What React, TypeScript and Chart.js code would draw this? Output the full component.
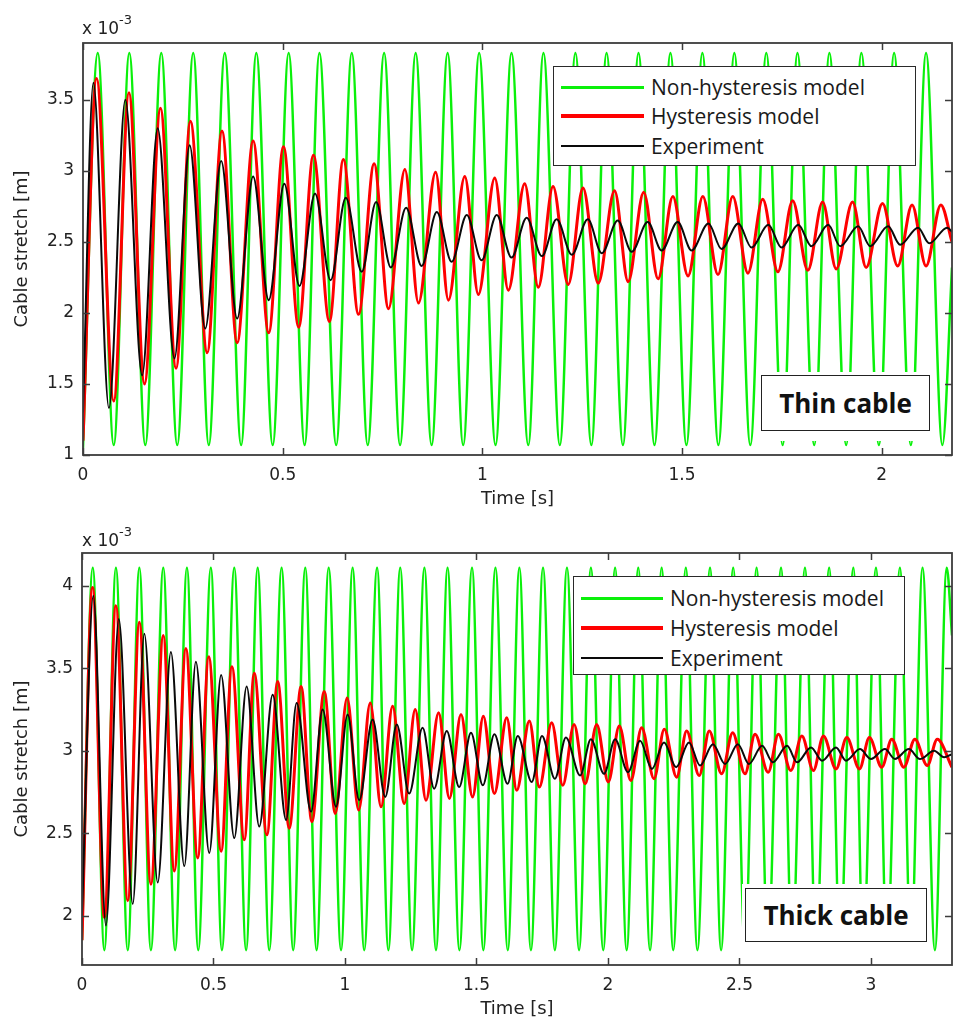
import React, { useEffect, useRef } from 'react';
import { Chart, registerables } from 'chart.js';

Chart.register(...registerables);

// ---------------- Thin cable (top panel) ----------------
const thinTimeTicks = [0, 0.5, 1, 1.5, 2];
const thinStretchTicks = [1, 1.5, 2, 2.5, 3, 3.5];

const thinGreenT = [0, 0.037, 0.077, 0.116, 0.156, 0.196, 0.236, 0.276, 0.315, 0.355, 0.396, 0.434, 0.475, 0.515, 0.555, 0.592, 0.634, 0.673, 0.713, 0.754, 0.794, 0.833, 0.873, 0.913, 0.952, 0.992, 1.033, 1.073, 1.115, 1.153, 1.194, 1.233, 1.273, 1.311, 1.352, 1.391, 1.431, 1.471, 1.511, 1.551, 1.591, 1.631, 1.671, 1.711, 1.752, 1.789, 1.831, 1.869, 1.911, 1.949, 1.993, 2.031, 2.073, 2.111, 2.152, 2.176];
const thinGreenV = [1.05, 3.83, 1.07, 3.83, 1.07, 3.83, 1.07, 3.83, 1.07, 3.83, 1.07, 3.83, 1.07, 3.83, 1.07, 3.83, 1.07, 3.83, 1.07, 3.83, 1.07, 3.83, 1.07, 3.83, 1.07, 3.83, 1.07, 3.83, 1.07, 3.83, 1.07, 3.83, 1.07, 3.83, 1.07, 3.83, 1.07, 3.83, 1.07, 3.83, 1.07, 3.83, 1.07, 3.83, 1.07, 3.83, 1.07, 3.83, 1.07, 3.83, 1.07, 3.83, 1.07, 3.83, 1.07, 2.32];

const thinRedT = [0, 0.034, 0.077, 0.115, 0.154, 0.194, 0.233, 0.269, 0.311, 0.348, 0.386, 0.426, 0.465, 0.502, 0.540, 0.577, 0.617, 0.652, 0.690, 0.729, 0.765, 0.806, 0.840, 0.883, 0.915, 0.956, 0.990, 1.031, 1.065, 1.106, 1.140, 1.177, 1.215, 1.252, 1.290, 1.331, 1.365, 1.404, 1.440, 1.477, 1.515, 1.552, 1.590, 1.627, 1.665, 1.702, 1.740, 1.777, 1.815, 1.852, 1.886, 1.927, 1.961, 2.002, 2.040, 2.076, 2.111, 2.148, 2.176];
const thinRedV = [1.10, 3.65, 1.38, 3.55, 1.50, 3.44, 1.61, 3.35, 1.72, 3.28, 1.79, 3.21, 1.86, 3.17, 1.90, 3.11, 1.94, 3.08, 1.99, 3.05, 2.03, 3.01, 2.07, 2.99, 2.09, 2.96, 2.13, 2.95, 2.16, 2.91, 2.18, 2.89, 2.20, 2.88, 2.21, 2.86, 2.22, 2.85, 2.24, 2.82, 2.26, 2.82, 2.27, 2.82, 2.28, 2.80, 2.29, 2.79, 2.30, 2.78, 2.31, 2.78, 2.32, 2.77, 2.33, 2.76, 2.33, 2.76, 2.50];

const thinBlackT = [0, 0.026, 0.065, 0.106, 0.148, 0.187, 0.229, 0.267, 0.306, 0.346, 0.386, 0.426, 0.465, 0.504, 0.542, 0.581, 0.620, 0.658, 0.698, 0.734, 0.771, 0.809, 0.848, 0.886, 0.923, 0.961, 0.998, 1.036, 1.073, 1.111, 1.149, 1.186, 1.224, 1.264, 1.299, 1.339, 1.374, 1.414, 1.449, 1.489, 1.524, 1.566, 1.599, 1.641, 1.674, 1.716, 1.749, 1.791, 1.824, 1.866, 1.896, 1.941, 1.971, 2.016, 2.046, 2.091, 2.119, 2.164, 2.176];
const thinBlackV = [1.30, 3.62, 1.33, 3.50, 1.56, 3.30, 1.68, 3.18, 1.89, 3.07, 1.96, 2.96, 2.09, 2.91, 2.19, 2.84, 2.23, 2.81, 2.29, 2.78, 2.32, 2.74, 2.33, 2.71, 2.36, 2.69, 2.37, 2.69, 2.39, 2.67, 2.40, 2.66, 2.41, 2.66, 2.42, 2.65, 2.43, 2.64, 2.44, 2.64, 2.44, 2.63, 2.45, 2.63, 2.46, 2.62, 2.46, 2.62, 2.47, 2.62, 2.47, 2.61, 2.47, 2.61, 2.48, 2.60, 2.49, 2.60, 2.57];

// ---------------- Thick cable (bottom panel) ----------------
const thickTimeTicks = [0, 0.5, 1, 1.5, 2, 2.5, 3];
const thickStretchTicks = [2, 2.5, 3, 3.5, 4];

const thickGreenT = [0, 0.041, 0.085, 0.129, 0.174, 0.218, 0.262, 0.309, 0.354, 0.399, 0.442, 0.490, 0.532, 0.579, 0.624, 0.668, 0.712, 0.759, 0.803, 0.849, 0.892, 0.938, 0.985, 1.029, 1.073, 1.122, 1.165, 1.210, 1.255, 1.302, 1.346, 1.390, 1.435, 1.483, 1.526, 1.572, 1.619, 1.663, 1.707, 1.753, 1.798, 1.844, 1.890, 1.935, 1.982, 2.027, 2.071, 2.115, 2.160, 2.204, 2.248, 2.296, 2.340, 2.388, 2.430, 2.476, 2.521, 2.565, 2.608, 2.658, 2.700, 2.749, 2.791, 2.841, 2.882, 2.933, 2.970, 3.019, 3.061, 3.110, 3.152, 3.196, 3.243, 3.288, 3.308];
const thickGreenV = [1.85, 4.11, 1.79, 4.11, 1.79, 4.11, 1.79, 4.11, 1.79, 4.11, 1.79, 4.11, 1.79, 4.11, 1.79, 4.11, 1.79, 4.11, 1.79, 4.11, 1.79, 4.11, 1.79, 4.11, 1.79, 4.11, 1.79, 4.11, 1.79, 4.11, 1.79, 4.11, 1.79, 4.11, 1.79, 4.11, 1.79, 4.11, 1.79, 4.11, 1.79, 4.11, 1.79, 4.11, 1.79, 4.11, 1.79, 4.11, 1.79, 4.11, 1.79, 4.11, 1.79, 4.11, 1.79, 4.11, 1.79, 4.11, 1.79, 4.11, 1.79, 4.11, 1.79, 4.11, 1.79, 4.11, 1.79, 4.11, 1.79, 4.11, 1.79, 4.11, 1.79, 4.11, 3.70];

const thickRedT = [0, 0.040, 0.085, 0.129, 0.174, 0.218, 0.262, 0.309, 0.351, 0.395, 0.440, 0.482, 0.529, 0.570, 0.617, 0.655, 0.703, 0.744, 0.788, 0.833, 0.874, 0.921, 0.963, 1.008, 1.052, 1.096, 1.137, 1.181, 1.225, 1.267, 1.308, 1.356, 1.397, 1.441, 1.485, 1.526, 1.568, 1.615, 1.653, 1.701, 1.739, 1.786, 1.828, 1.871, 1.913, 1.957, 2.001, 2.043, 2.087, 2.128, 2.175, 2.214, 2.261, 2.299, 2.347, 2.385, 2.432, 2.474, 2.521, 2.559, 2.609, 2.648, 2.695, 2.737, 2.781, 2.819, 2.867, 2.908, 2.956, 2.994, 3.041, 3.079, 3.125, 3.167, 3.214, 3.252, 3.308];
const thickRedV = [1.85, 3.99, 1.99, 3.88, 2.09, 3.78, 2.19, 3.70, 2.27, 3.62, 2.35, 3.57, 2.39, 3.51, 2.46, 3.47, 2.49, 3.42, 2.53, 3.39, 2.57, 3.36, 2.62, 3.32, 2.64, 3.29, 2.66, 3.27, 2.68, 3.25, 2.70, 3.23, 2.71, 3.22, 2.72, 3.21, 2.74, 3.20, 2.76, 3.18, 2.78, 3.17, 2.79, 3.16, 2.80, 3.16, 2.81, 3.15, 2.82, 3.14, 2.83, 3.13, 2.84, 3.12, 2.85, 3.12, 2.86, 3.11, 2.86, 3.10, 2.87, 3.10, 2.88, 3.09, 2.88, 3.09, 2.89, 3.08, 2.89, 3.08, 2.90, 3.07, 2.90, 3.07, 2.91, 3.07, 2.90];

const thickBlackT = [0, 0.043, 0.091, 0.140, 0.193, 0.237, 0.288, 0.338, 0.389, 0.433, 0.484, 0.529, 0.579, 0.626, 0.674, 0.725, 0.776, 0.816, 0.871, 0.915, 0.966, 1.010, 1.054, 1.105, 1.153, 1.197, 1.244, 1.295, 1.339, 1.387, 1.434, 1.479, 1.524, 1.568, 1.618, 1.657, 1.710, 1.749, 1.798, 1.840, 1.894, 1.935, 1.985, 2.027, 2.076, 2.122, 2.167, 2.213, 2.259, 2.308, 2.350, 2.399, 2.445, 2.494, 2.536, 2.586, 2.627, 2.681, 2.719, 2.772, 2.814, 2.867, 2.905, 2.958, 3.000, 3.053, 3.091, 3.144, 3.186, 3.240, 3.278, 3.308];
const thickBlackV = [2.00, 3.94, 1.94, 3.80, 2.07, 3.71, 2.20, 3.60, 2.30, 3.54, 2.38, 3.46, 2.47, 3.39, 2.54, 3.34, 2.58, 3.29, 2.63, 3.25, 2.66, 3.22, 2.70, 3.19, 2.72, 3.16, 2.74, 3.14, 2.77, 3.12, 2.78, 3.11, 2.79, 3.10, 2.80, 3.09, 2.81, 3.09, 2.83, 3.08, 2.85, 3.07, 2.86, 3.07, 2.87, 3.06, 2.89, 3.05, 2.90, 3.05, 2.91, 3.04, 2.92, 3.04, 2.92, 3.03, 2.93, 3.03, 2.93, 3.02, 2.94, 3.02, 2.94, 3.01, 2.95, 3.01, 2.95, 3.01, 2.95, 3.00, 2.96, 2.98];

const seriesNames = ['Non-hysteresis model', 'Hysteresis model', 'Experiment'];
const GREEN = 'rgb(10,240,10)';
const RED = 'rgb(255,0,0)';
const BLACK = 'rgb(10,10,10)';
const AXIS = '#3c3c3c';
const TEXT = '#222';

const zip = (t: number[], v: number[]) => {
  const n = Math.min(t.length, v.length);
  const out: { x: number; y: number }[] = [];
  for (let i = 0; i < n; i++) out.push({ x: t[i], y: v[i] });
  return out;
};

const boxPlugin = {
  id: 'matlabBox',
  afterDatasetsDraw(chart: any) {
    const { ctx, chartArea: a, scales } = chart;
    const len = 7;
    ctx.save();
    ctx.strokeStyle = AXIS;
    ctx.lineWidth = 1.5;
    ctx.beginPath();
    for (const t of scales.x.ticks) {
      const px = Math.round(scales.x.getPixelForValue(t.value)) + 0.5;
      ctx.moveTo(px, a.bottom);
      ctx.lineTo(px, a.bottom - len);
      ctx.moveTo(px, a.top);
      ctx.lineTo(px, a.top + len);
    }
    for (const t of scales.y.ticks) {
      const py = Math.round(scales.y.getPixelForValue(t.value)) + 0.5;
      ctx.moveTo(a.left, py);
      ctx.lineTo(a.left + len, py);
      ctx.moveTo(a.right, py);
      ctx.lineTo(a.right - len, py);
    }
    ctx.stroke();
    ctx.lineWidth = 1.8;
    ctx.strokeRect(a.left, a.top, a.right - a.left, a.bottom - a.top);
    ctx.restore();
  },
};

type PanelProps = {
  top: number;
  height: number;
  padTop: number;
  yAxisW: number;
  xAxisH: number;
  xMax: number;
  yMin: number;
  yMax: number;
  xTicks: number[];
  yTicks: number[];
  green: { x: number; y: number }[];
  red: { x: number; y: number }[];
  black: { x: number; y: number }[];
  xTitlePad: number;
};

function Panel(p: PanelProps) {
  const ref = useRef<HTMLCanvasElement>(null);
  useEffect(() => {
    const font = { family: '"DejaVu Sans", sans-serif', size: 17 };
    const chart = new Chart(ref.current as HTMLCanvasElement, {
      type: 'line',
      data: {
        datasets: [
          { label: seriesNames[2], data: p.black, borderColor: BLACK, borderWidth: 2, pointRadius: 0, cubicInterpolationMode: 'monotone', order: 0 },
          { label: seriesNames[1], data: p.red, borderColor: RED, borderWidth: 3, pointRadius: 0, cubicInterpolationMode: 'monotone', order: 1 },
          { label: seriesNames[0], data: p.green, borderColor: GREEN, borderWidth: 2.5, pointRadius: 0, cubicInterpolationMode: 'monotone', order: 2 },
        ],
      },
      options: {
        responsive: false,
        animation: false,
        devicePixelRatio: 1,
        parsing: false,
        layout: { padding: { top: p.padTop, right: 2, left: 0, bottom: 0 } },
        plugins: { legend: { display: false }, tooltip: { enabled: false } },
        scales: {
          x: {
            type: 'linear',
            min: 0,
            max: p.xMax,
            grid: { display: false, drawTicks: false },
            border: { display: false },
            afterBuildTicks: (s: any) => { s.ticks = p.xTicks.map((v) => ({ value: v })); },
            afterFit: (s: any) => { s.height = p.xAxisH; },
            ticks: { autoSkip: false, maxRotation: 0, padding: 10, color: TEXT, font, callback: (v: any) => String(v) },
            title: { display: true, text: 'Time [s]', color: TEXT, font: { ...font, size: 18 }, padding: { top: 0, bottom: p.xTitlePad } },
          },
          y: {
            type: 'linear',
            min: p.yMin,
            max: p.yMax,
            grid: { display: false, drawTicks: false },
            border: { display: false },
            afterBuildTicks: (s: any) => { s.ticks = p.yTicks.map((v) => ({ value: v })); },
            afterFit: (s: any) => { s.width = p.yAxisW; },
            ticks: { autoSkip: false, padding: 9, color: TEXT, font, callback: (v: any) => String(v) },
            title: { display: true, text: 'Cable stretch [m]', color: TEXT, font: { ...font, size: 18 }, padding: { top: 12, bottom: 0 } },
          },
        },
      },
      plugins: [boxPlugin],
    } as any);
    return () => chart.destroy();
  }, []);
  return (
    <canvas
      ref={ref}
      width={954}
      height={p.height}
      style={{ position: 'absolute', left: 0, top: p.top, width: 954, height: p.height }}
    />
  );
}

function Legend({ left, top, width, height, lineLeft, lineW, textLeft, rows }: any) {
  const colors = [GREEN, RED, BLACK];
  const widths = [3, 3.5, 2];
  return (
    <div style={{ position: 'absolute', left, top, width, height, background: '#fff', border: '1.5px solid #2a2a2a', boxSizing: 'border-box' }}>
      {seriesNames.map((name, i) => (
        <React.Fragment key={name}>
          <div style={{ position: 'absolute', left: lineLeft, top: rows[i] - widths[i] / 2, width: lineW, height: widths[i], background: colors[i] }} />
          <div style={{ position: 'absolute', left: textLeft, top: rows[i] - 15, height: 30, lineHeight: '30px', fontFamily: '"Open Sans", sans-serif', fontSize: 21, color: '#1a1a1a', whiteSpace: 'nowrap' }}>{name}</div>
        </React.Fragment>
      ))}
    </div>
  );
}

function Note({ mask, box, text }: any) {
  return (
    <>
      <div style={{ position: 'absolute', left: mask[0], top: mask[1], width: mask[2], height: mask[3], background: '#fff' }} />
      <div style={{ position: 'absolute', left: box[0], top: box[1], width: box[2], height: box[3], border: '1.5px solid #222', boxSizing: 'border-box', background: '#fff', display: 'flex', alignItems: 'center', justifyContent: 'center', fontFamily: '"Open Sans", sans-serif', fontWeight: 700, fontSize: 26, color: '#111', whiteSpace: 'nowrap' }}>{text}</div>
    </>
  );
}

function Exponent({ left, top }: any) {
  return (
    <div style={{ position: 'absolute', left, top, fontFamily: '"DejaVu Sans", sans-serif', fontSize: 17, color: TEXT, whiteSpace: 'nowrap', lineHeight: '20px' }}>
      x 10<span style={{ position: 'relative', top: -10, fontSize: 13 }}>-3</span>
    </div>
  );
}

export default function App() {
  return (
    <div style={{ position: 'absolute', left: 0, top: 0, width: 954, height: 1023, background: '#fff', overflow: 'hidden' }}>
      <Panel
        top={0}
        height={515}
        padTop={43}
        yAxisW={83}
        xAxisH={60}
        xMax={2.176}
        yMin={1}
        yMax={3.9}
        xTicks={thinTimeTicks}
        yTicks={thinStretchTicks}
        green={zip(thinGreenT, thinGreenV)}
        red={zip(thinRedT, thinRedV)}
        black={zip(thinBlackT, thinBlackV)}
        xTitlePad={5}
      />
      <Panel
        top={515}
        height={508}
        padTop={38}
        yAxisW={82}
        xAxisH={58}
        xMax={3.308}
        yMin={1.7}
        yMax={4.2}
        xTicks={thickTimeTicks}
        yTicks={thickStretchTicks}
        green={zip(thickGreenT, thickGreenV)}
        red={zip(thickRedT, thickRedV)}
        black={zip(thickBlackT, thickBlackV)}
        xTitlePad={3}
      />
      <Exponent left={82} top={18} />
      <Exponent left={82} top={530} />
      <Legend left={553} top={66} width={363} height={100} lineLeft={7} lineW={83} textLeft={97} rows={[20, 49, 79]} />
      <Legend left={573} top={576} width={332} height={99} lineLeft={7} lineW={82} textLeft={96} rows={[21, 51, 81]} />
      <Note mask={[757, 372, 178, 69]} box={[761, 375, 169, 56]} text="Thin cable" />
      <Note mask={[742, 884, 188, 69]} box={[745, 888, 182, 54]} text="Thick cable" />
    </div>
  );
}
